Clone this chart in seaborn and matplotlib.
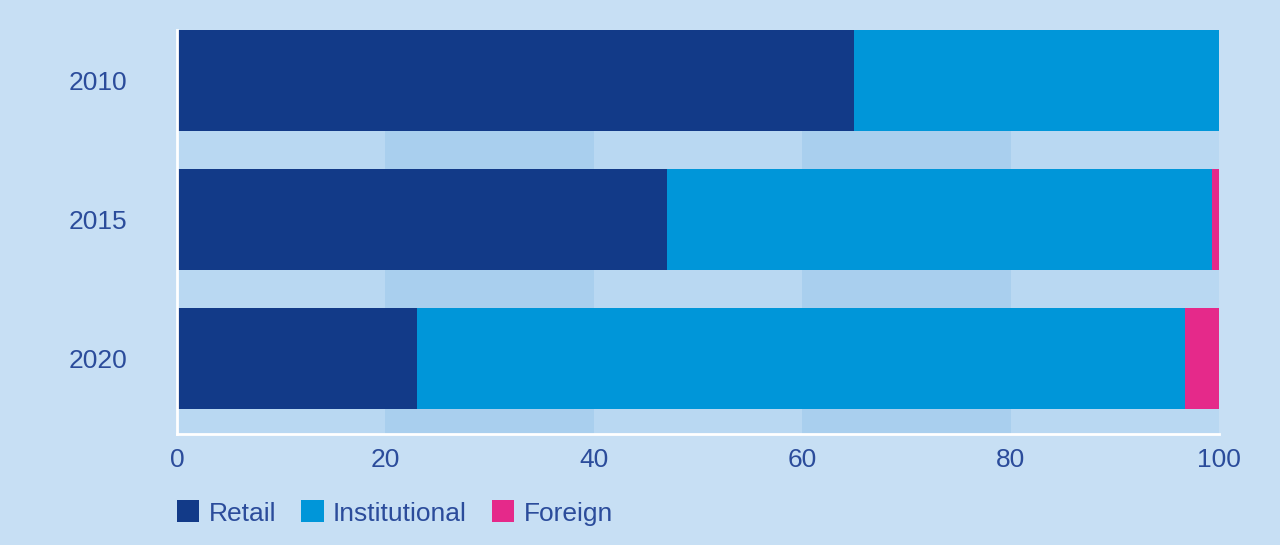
import numpy as np
import pandas as pd
import matplotlib
matplotlib.use('agg')
import matplotlib.pyplot as plt
from matplotlib.patches import Patch
import seaborn as sns

years = ['2010', '2015', '2020']
retail = [65.0, 47.0, 23.0]
institutional = [35.0, 52.3, 73.7]
foreign = [0.0, 0.7, 3.3]
series = ['Retail', 'Institutional', 'Foreign']
colors = ['#123a88', '#0096d9', '#e5298a']

bg = '#c7dff4'
band_light = '#b9d8f2'
band_dark = '#a9cfee'
text_col = '#2b4c9b'

df = pd.DataFrame({'year': years, 'Retail': retail,
                   'Institutional': institutional, 'Foreign': foreign})
df['cum_retail'] = df['Retail']
df['cum_inst'] = df['Retail'] + df['Institutional']
df['cum_all'] = df['cum_inst'] + df['Foreign']

sns.set_style('white')
plt.rcParams['font.family'] = ['Liberation Sans', 'DejaVu Sans']

fig = plt.figure(figsize=(12.8, 5.45), dpi=100, facecolor=bg)
ax = fig.add_axes([177 / 1280, 1 - 434 / 545, (1219 - 177) / 1280, (434 - 30) / 545])
ax.set_facecolor(band_light)

# alternating vertical bands behind the bars
for lo in (20, 60):
    ax.axvspan(lo, lo + 20, color=band_dark, lw=0, zorder=0)

# stacked by overlaying cumulative totals
for col, c in zip(['cum_all', 'cum_inst', 'cum_retail'], colors[::-1]):
    sns.barplot(data=df, y='year', x=col, orient='h', color=c, width=0.727,
                saturation=1, errorbar=None, ax=ax, zorder=2,
                linewidth=0, edgecolor='none')

ax.set_xlim(0, 100)
ax.set_ylim(2.543, -0.3635)
ax.set_xticks([0, 20, 40, 60, 80, 100])
ax.set_xlabel('')
ax.set_ylabel('')
ax.tick_params(axis='x', length=0, pad=10, labelsize=19, labelcolor=text_col)
ax.tick_params(axis='y', length=0, pad=36, labelsize=19, labelcolor=text_col)

for s in ['top', 'right']:
    ax.spines[s].set_visible(False)
for s in ['left', 'bottom']:
    ax.spines[s].set_color('white')
    ax.spines[s].set_linewidth(2)
    ax.spines[s].set_zorder(3)

handles = [Patch(facecolor=c, edgecolor='none') for c in colors]
leg = fig.legend(handles, series, loc='center left',
                 bbox_to_anchor=(177 / 1280, 1 - 513 / 545), ncol=3, frameon=False,
                 fontsize=19, handlelength=0.85, handleheight=0.9,
                 handletextpad=0.35, columnspacing=0.95, borderaxespad=0,
                 borderpad=0)
for t in leg.get_texts():
    t.set_color(text_col)

fig.savefig('out.png', dpi=100, facecolor=bg)
